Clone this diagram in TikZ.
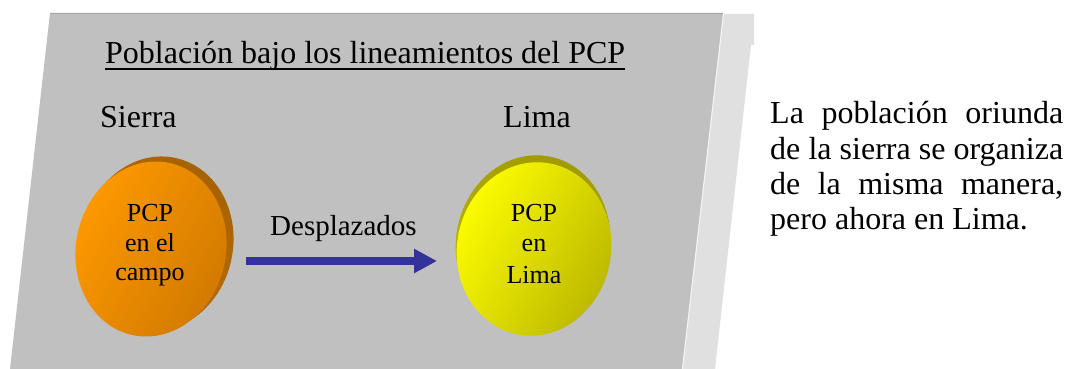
\documentclass[tikz,border=0pt]{standalone}
\usepackage{fontspec}
\setmainfont{Liberation Serif}
\usetikzlibrary{arrows.meta}
\definecolor{panel}{HTML}{C0C0C0}
\definecolor{paneltop}{HTML}{A4A4A4}
\definecolor{strip}{HTML}{E0E0E0}
\definecolor{orlit}{HTML}{FF9A00}
\definecolor{ormid}{HTML}{E08700}
\definecolor{ordark}{HTML}{D07800}
\definecolor{orback}{HTML}{C27000}
\definecolor{orbackd}{HTML}{A66200}
\definecolor{yelit}{HTML}{FFFF00}
\definecolor{yemid}{HTML}{D6D300}
\definecolor{yedark}{HTML}{BAB600}
\definecolor{yeback}{HTML}{C4C000}
\definecolor{yebackd}{HTML}{A09A00}
\definecolor{arrowblue}{HTML}{333399}
\tikzset{
  big/.style={font=\fontsize{32}{35}\selectfont, inner sep=0pt},
  mid/.style={font=\fontsize{29}{33}\selectfont, inner sep=0pt},
  disc/.style={font=\fontsize{26}{30}\selectfont, inner sep=0pt, align=center},
  flow/.style={draw=arrowblue, line width=8pt, -{Triangle[length=23pt,width=23pt]}},
}
\begin{document}
\begin{tikzpicture}[x=1pt,y=-1pt]
\useasboundingbox (0,0) rectangle (1069,369);
% light strip behind panel
\fill[strip] (720,14) -- (754,14) -- (754,45) -- (751,45) -- (715,369) -- (682,369) -- cycle;
% panel
\fill[panel] (50,13) -- (723,13) -- (682,369) -- (10,369) -- cycle;
\draw[paneltop, line width=1.6pt] (50,13.5) -- (723,13.5);
\draw[white!92!gray, line width=1pt] (723.5,14) -- (682.5,369);
% title and labels
\node[big, anchor=base west] (title) at (105,64) {Población bajo los lineamientos del PCP};
\draw[black, line width=1.4pt] (title.south west |- 0,69) -- (title.south east |- 0,69);
\node[big, anchor=base west] (sierra) at (100,127) {Sierra};
\node[big, anchor=base west] (lima) at (503,127) {Lima};
% orange disc
\begin{scope}[shift={(157,244)}, rotate=-12]
  \shade[top color=orbackd, bottom color=orback, shading angle=-40] (0,0) ellipse [x radius=76, y radius=88];
\end{scope}
\begin{scope}[shift={(151,249)}, rotate=-12]
  \shade[top color=orlit, middle color=ormid, bottom color=ordark, shading angle=60] (0,0) ellipse [x radius=75, y radius=88];
\end{scope}
\node[disc, anchor=base] (campo) at (150,221) {PCP};
\node[disc, anchor=base] (campo2) at (150,251) {en el};
\node[disc, anchor=base] (campo3) at (150,280) {campo};
% yellow disc
\begin{scope}[shift={(533,243)}, rotate=-10]
  \shade[top color=yebackd, bottom color=yeback, shading angle=-20] (0,0) ellipse [x radius=77, y radius=88];
\end{scope}
\begin{scope}[shift={(534,249)}, rotate=-10]
  \shade[top color=yelit, middle color=yemid, bottom color=yedark, shading angle=60] (0,0) ellipse [x radius=77, y radius=87];
\end{scope}
\node[disc, anchor=base] (lim1) at (534,221) {PCP};
\node[disc, anchor=base] (lim2) at (534,251) {en};
\node[disc, anchor=base] (lim3) at (534,283) {Lima};
% arrow
\coordinate (aS) at (246,261);
\coordinate (aE) at (437,261);
\draw[flow] (aS) -- (aE);
\node[mid, anchor=base west] (despl) at (270,235) {Desplazados};
% right text
\node[big, anchor=base west] (r1) at (770,124) {\makebox[293pt][s]{La población oriunda}};
\node[big, anchor=base west] (r2) at (770,159) {\makebox[293pt][s]{de la sierra se organiza}};
\node[big, anchor=base west] (r3) at (770,194) {\makebox[293pt][s]{de la misma manera,}};
\node[big, anchor=base west] (r4) at (770,229) {pero ahora en Lima.};
\end{tikzpicture}
\end{document}
